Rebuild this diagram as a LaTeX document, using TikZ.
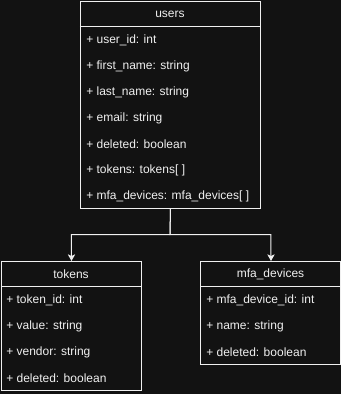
\documentclass[tikz,border=0pt]{standalone}
\usepackage{fontspec}
\setmainfont{Liberation Sans}
\usetikzlibrary{arrows.meta}
\definecolor{bgdark}{HTML}{121212}
\definecolor{ink}{HTML}{F0F0F0}
\begin{document}
\begin{tikzpicture}[x=0.75pt,y=-0.75pt,
  entity/.style={draw=ink, fill=bgdark, line width=0.75pt, inner sep=0pt, anchor=north west},
  divider/.style={draw=ink, line width=0.75pt},
  title/.style={text=ink, font=\fontsize{9}{11}\selectfont, inner sep=0pt},
  field/.style={text=ink, font=\fontsize{9}{11}\selectfont, inner sep=0pt, anchor=west},
  link/.style={draw=ink, line width=0.75pt, -{Stealth[length=5pt,width=5.5pt,inset=1.3pt]}}]
\useasboundingbox[fill=bgdark] (0,0) rectangle (341,394);

% users entity
\node[entity, minimum width=135pt, minimum height=155.25pt] (users) at (80,1) {};
\draw[divider] (80,26) -- (260,26);
\node[title] (usersT) at (170,14) {users};
\node[field] (u1) at (86,40) {+ user\_id: int};
\node[field] (u2) at (86,66) {+ first\_name: string};
\node[field] (u3) at (86,92) {+ last\_name: string};
\node[field] (u4) at (86,118) {+ email: string};
\node[field] (u5) at (86,144) {+ deleted: boolean};
\node[field] (u6) at (86,170) {+ tokens: tokens[ ]};
\node[field] (u7) at (86,196) {+ mfa\_devices: mfa\_devices[ ]};

% tokens entity
\node[entity, minimum width=105pt, minimum height=96.75pt] (tokens) at (1,261) {};
\draw[divider] (1,286) -- (141,286);
\node[title] (tokensT) at (71,274) {tokens};
\node[field] (t1) at (6,300) {+ token\_id: int};
\node[field] (t2) at (6,326) {+ value: string};
\node[field] (t3) at (6,352) {+ vendor: string};
\node[field] (t4) at (6,378) {+ deleted: boolean};

% mfa_devices entity
\node[entity, minimum width=105pt, minimum height=77.25pt] (mfa) at (200.5,261) {};
\draw[divider] (200.5,286) -- (340.5,286);
\node[title] (mfaT) at (270.5,274) {mfa\_devices};
\node[field] (m1) at (206,300) {+ mfa\_device\_id: int};
\node[field] (m2) at (206,326) {+ name: string};
\node[field] (m3) at (206,352) {+ deleted: boolean};

% connectors
\coordinate (split) at (170,234.5);
\draw[link] (users.south) -- (split) -| (tokens.north);
\draw[link] (users.south) -- (split) -| (mfa.north);
\end{tikzpicture}
\end{document}
